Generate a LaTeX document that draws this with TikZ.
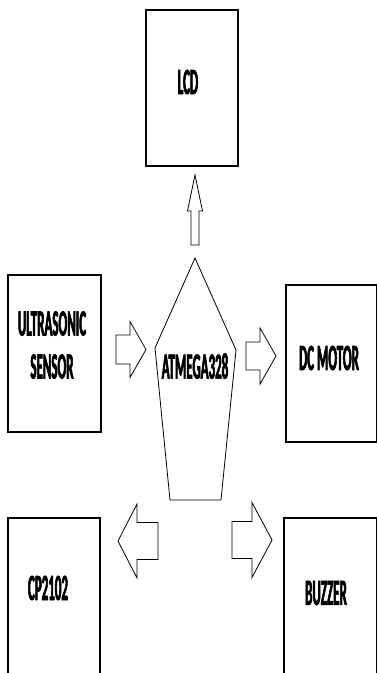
\documentclass[tikz,border=0pt]{standalone}
\usepackage{fontspec}
\setmainfont{Carlito}[FakeStretch=0.35,BoldFeatures={FakeBold=1.6}]
\usetikzlibrary{calc}
\tikzset{
box/.style={draw=black,line width=1.1pt,fill=white,inner sep=0pt},
lbl/.style={font=\fontsize{37}{43}\selectfont\bfseries,align=center,inner sep=0pt},
chip/.style={draw=black,line width=.8pt},
fatline/.style={draw=black,line width=.8pt,line join=miter,fill=white}}
% block arrow: start, angle, shaft length, shaft half width, head length, head half width
\newcommand{\fatarrow}[6]{%
\draw[fatline,shift={(#1)},rotate=#2] (0,-#4) -- (#3,-#4) -- (#3,-#6) -- ({#3+#5},0) -- (#3,#6) -- (#3,#4) -- (0,#4) -- cycle;}
\begin{document}
\begin{tikzpicture}[x=1pt,y=-1pt]
\path[use as bounding box,clip] (0,0) rectangle (377,673);
\node[box,minimum width=92,minimum height=156] (lcd) at (192,88) {};
\node[lbl] (lcdtext) at (188,82) {LCD};
\node[box,minimum width=93,minimum height=157] (sensor) at (54.5,353.5) {};
\node[lbl] (sensortext) at (52,345) {ULTRASONIC\\SENSOR};
\node[box,minimum width=91,minimum height=157] (motor) at (331.5,363.5) {};
\node[lbl] (motortext) at (329,358) {DC MOTOR};
\node[box,minimum width=92,minimum height=170] (cp) at (54,603) {};
\node[lbl] (cptext) at (48,588) {CP2102};
\node[box,minimum width=93,minimum height=170] (buzzer) at (330.5,603) {};
\node[lbl] (buzzertext) at (326,593) {BUZZER};
% microcontroller
\coordinate (apex) at (195,258);
\coordinate (lsh) at (155,348);
\coordinate (rsh) at (236,350);
\coordinate (lbot) at (170,500);
\coordinate (rbot) at (221,500);
\draw[chip] (apex) -- (rsh) -- (rbot) -- (lbot) -- (lsh) -- cycle;
\node[lbl] (mcu) at (195,366) {ATMEGA328};
% block arrows
\coordinate (up) at (195,245);
\coordinate (in) at (116,349.5);
\coordinate (out) at (246,356);
\coordinate (left) at (158,541);
\coordinate (right) at (232,540);
\fatarrow{up}{90}{34}{4}{36}{7.5}
\fatarrow{in}{0}{14}{14.5}{16}{28}
\fatarrow{out}{0}{14}{14}{16}{28}
\fatarrow{left}{180}{21}{18.5}{19}{37}
\fatarrow{right}{0}{20}{18.5}{20}{37.5}
\end{tikzpicture}
\end{document}
